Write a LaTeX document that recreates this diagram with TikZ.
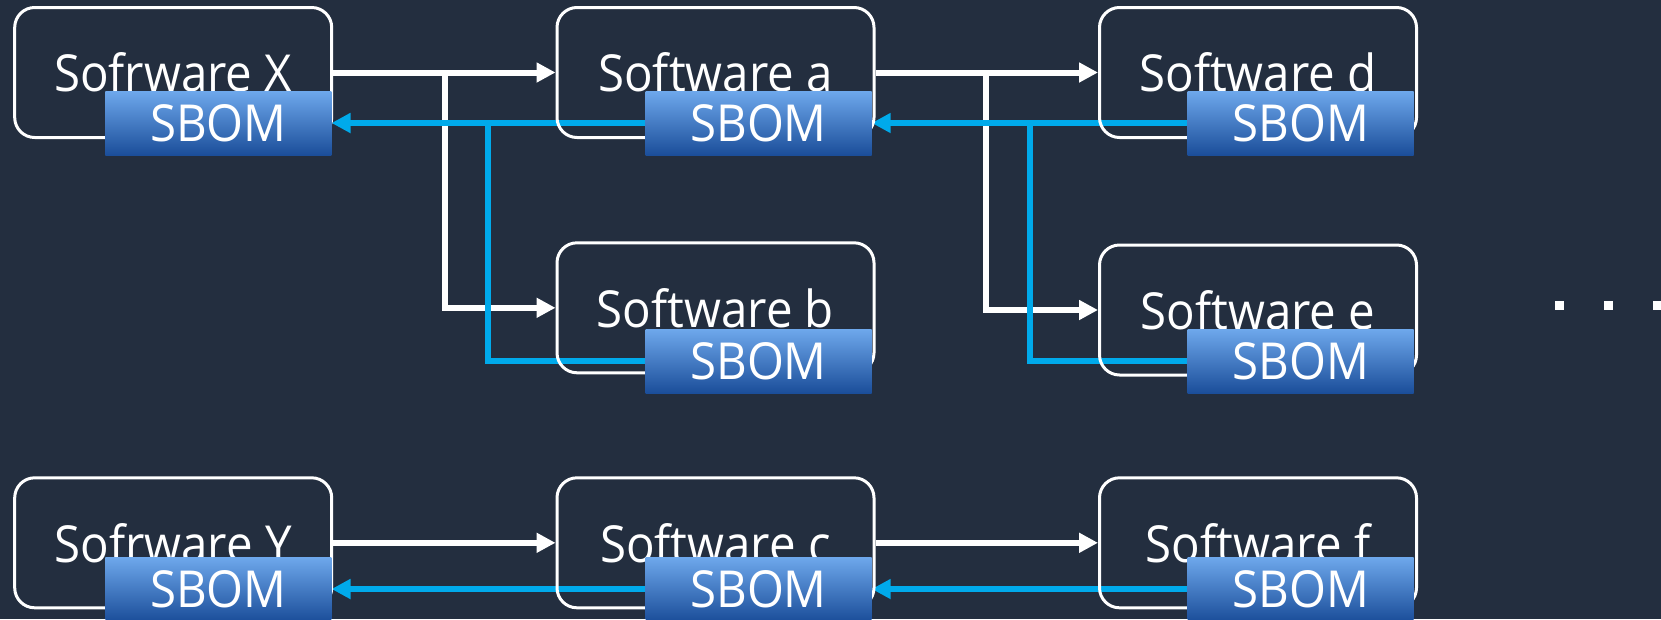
\documentclass[tikz,border=0pt]{standalone}
\usepackage{fontspec}
\setmainfont[FakeStretch=0.93]{Open Sans}
\usetikzlibrary{arrows.meta}

\definecolor{bgink}{RGB}{35,46,63}
\definecolor{sbomtop}{RGB}{110,168,236}
\definecolor{sbommid}{RGB}{33,120,223}
\definecolor{sbombot}{RGB}{27,78,154}
\definecolor{linkblue}{RGB}{0,170,235}

\pgfdeclarelayer{canvas}
\pgfdeclarelayer{links}
\pgfsetlayers{canvas,links,main}

\tikzset{
  swbox/.style={draw=white, line width=3pt, rounded corners=20pt,
    minimum width=317pt, minimum height=130pt, inner sep=0pt,
    text=white, font=\fontsize{51}{60}\selectfont},
  sbombox/.style={minimum width=226pt, minimum height=64pt, inner sep=0pt,
    top color=sbomtop, middle color=sbommid, bottom color=sbombot,
    text=white, font=\fontsize{51}{60}\selectfont},
  linkw/.style={line width=6pt},
  warrow/.style={draw=white, linkw,
    -{Triangle[length=19pt,width=19pt]}},
  barrow/.style={draw=linkblue, linkw,
    -{Triangle[length=19pt,width=19pt]}},
  bline/.style={draw=linkblue, linkw},
  dotmark/.style={fill=white, minimum size=9pt, inner sep=0pt}
}

\begin{document}
\begin{tikzpicture}[x=1pt, y=-1pt]
  % canvas
  \begin{pgfonlayer}{canvas}
    \fill[bgink] (0,0) rectangle (1661,619);
  \end{pgfonlayer}
  \useasboundingbox (0,0) rectangle (1661,619);

  % software boxes
  \node[swbox] (X) at (173.2,72.5) {Sofrware X};
  \node[swbox] (a) at (715.5,72.5) {Software a};
  \node[swbox] (d) at (1258,72.5) {Software d};
  \node[swbox] (b) at (715.5,307.8) {Software b};
  \node[swbox] (e) at (1258,310) {Software e};
  \node[swbox] (Y) at (173.2,542.8) {Sofrware Y};
  \node[swbox] (c) at (715.5,542.8) {Software c};
  \node[swbox] (f) at (1258,542.8) {Software f};

  % SBOM tags
  \node[sbombox] (sX) at (218.3,123) {SBOM};
  \node[sbombox] (sa) at (758.5,123) {SBOM};
  \node[sbombox] (sd) at (1300.7,123) {SBOM};
  \node[sbombox] (sb) at (758.5,361) {SBOM};
  \node[sbombox] (se) at (1300.7,361) {SBOM};
  \node[sbombox] (sY) at (218.3,589) {SBOM};
  \node[sbombox] (sc) at (758.5,589) {SBOM};
  \node[sbombox] (sf) at (1300.7,589) {SBOM};

  % junction points
  \coordinate (jab) at (445,72.5);
  \coordinate (jde) at (986,72.5);
  \coordinate (kab) at (488,123);
  \coordinate (kde) at (1030,123);

  \begin{pgfonlayer}{links}
    % dependency arrows
    \draw[warrow] (X.east) -- (a.west);
    \draw[warrow] (jab) |- (b.west);
    \draw[warrow] (a.east) -- (d.west);
    \draw[warrow] (jde) |- (e.west);
    \draw[warrow] (Y.east) -- (c.west);
    \draw[warrow] (c.east) -- (f.west);

    % SBOM propagation
    \draw[barrow] (sa.west) -- (sX.east);
    \draw[bline] (sb.west) -| (kab);
    \draw[barrow] (sd.west) -- (sa.east);
    \draw[bline] (se.west) -| (kde);
    \draw[barrow] (sc.west) -- (sY.east);
    \draw[barrow] (sf.west) -- (sc.east);
  \end{pgfonlayer}

  % continuation marks
  \node[dotmark] (dot1) at (1559,305) {};
  \node[dotmark] (dot2) at (1608,305) {};
  \node[dotmark] (dot3) at (1657,305) {};
\end{tikzpicture}
\end{document}
